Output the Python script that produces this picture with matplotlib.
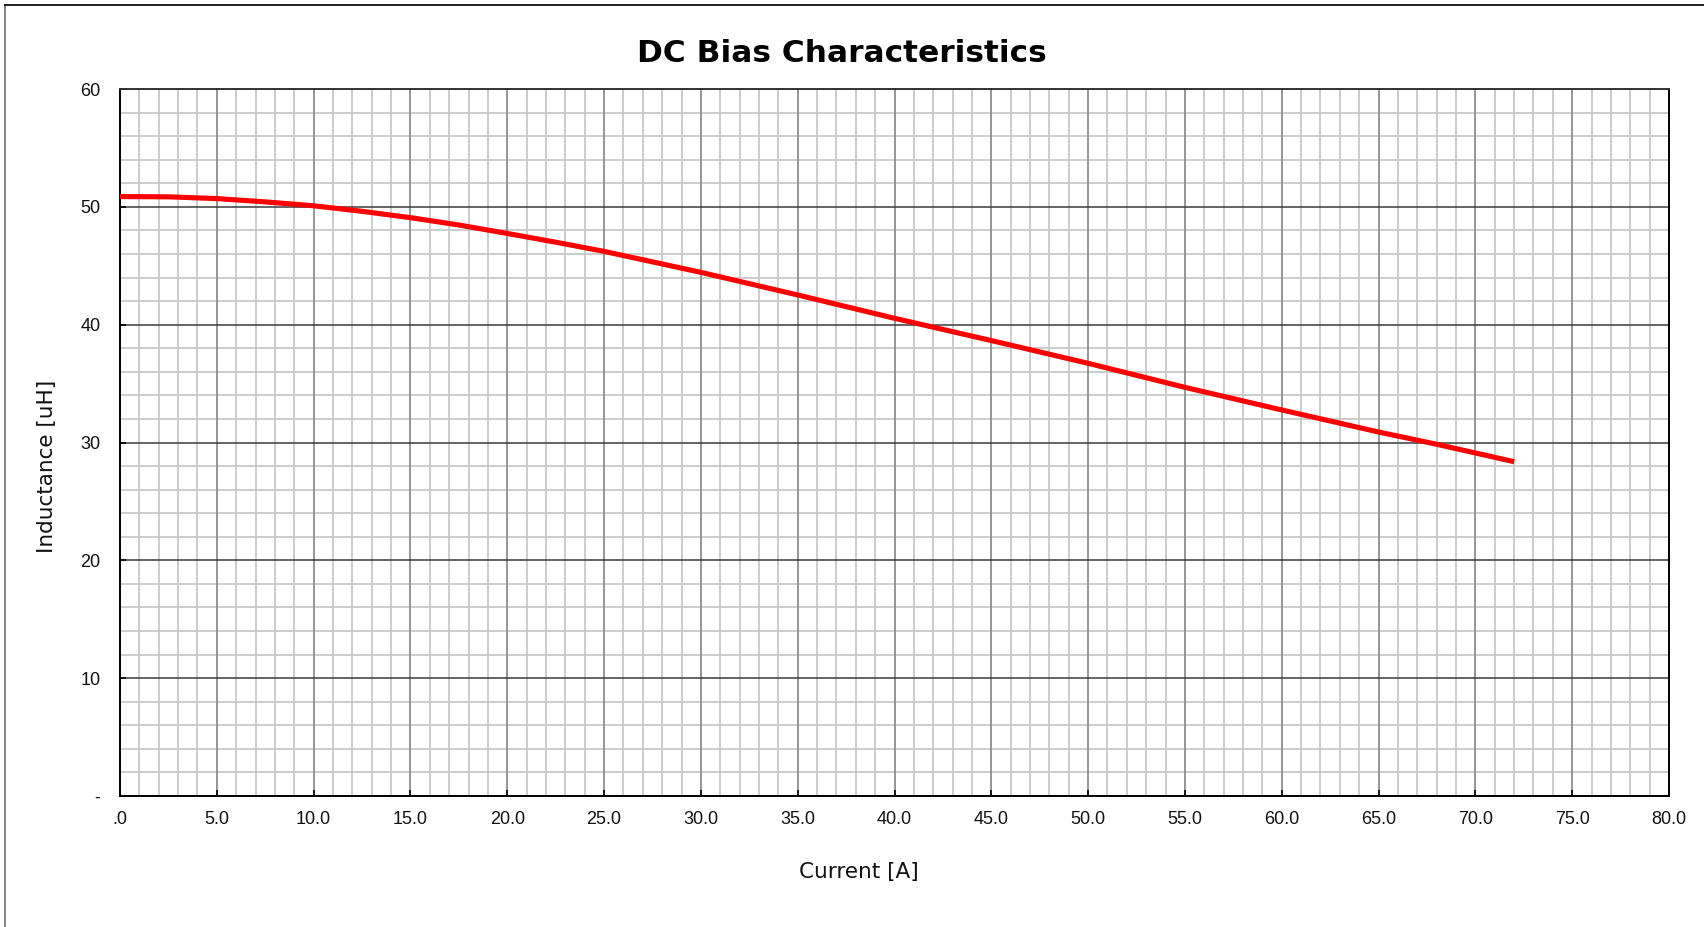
import matplotlib
matplotlib.use("Agg")
import matplotlib.pyplot as plt
from matplotlib.lines import Line2D
from matplotlib.ticker import FixedLocator, FixedFormatter

# Data
current = [0, 2.5, 5, 7.5, 10, 12.5, 15, 17.5, 20, 22.5, 25, 30, 35, 40, 45, 50, 55, 60, 65, 68, 72]
inductance = [50.87, 50.85, 50.70, 50.42, 50.09, 49.62, 49.08, 48.46, 47.74, 47.0, 46.22, 44.44,
              42.52, 40.54, 38.65, 36.72, 34.68, 32.76, 30.89, 29.85, 28.37]

x_ticks = [0, 5, 10, 15, 20, 25, 30, 35, 40, 45, 50, 55, 60, 65, 70, 75, 80]
x_tick_labels = [".0", "5.0", "10.0", "15.0", "20.0", "25.0", "30.0", "35.0", "40.0",
                 "45.0", "50.0", "55.0", "60.0", "65.0", "70.0", "75.0", "80.0"]
y_ticks = [0, 10, 20, 30, 40, 50, 60]
y_tick_labels = ["-", "10", "20", "30", "40", "50", "60"]

W, H = 1704, 927
fig = plt.figure(figsize=(W / 100, H / 100), dpi=100)
ax = fig.add_axes([120 / W, 1 - 796 / H, (1669 - 120) / W, (796 - 89) / H])

ax.set_xlim(0, 80)
ax.set_ylim(0, 60)

# Grid
for xv in range(0, 81):
    if xv % 5 == 0:
        ax.axvline(xv, color="#8e8e8e", lw=1.3, zorder=1)
    else:
        ax.axvline(xv, color="#c8c8c8", lw=1.3, zorder=0.5)
for yv in range(0, 61, 2):
    if yv % 10 == 0:
        ax.axhline(yv, color="#3a3a3a", lw=1.1, zorder=1)
    else:
        ax.axhline(yv, color="#c8c8c8", lw=1.3, zorder=0.5)

ax.plot(current, inductance, color="#ff0000", lw=3.7, solid_capstyle="butt", zorder=3)

ax.xaxis.set_major_locator(FixedLocator(x_ticks))
ax.xaxis.set_major_formatter(FixedFormatter(x_tick_labels))
ax.yaxis.set_major_locator(FixedLocator(y_ticks))
ax.yaxis.set_major_formatter(FixedFormatter(y_tick_labels))
ax.tick_params(axis="both", which="major", direction="in", length=4, width=1.2,
               color="black", labelsize=13, labelcolor="#111111")
ax.tick_params(axis="x", pad=11)
ax.tick_params(axis="y", pad=14)
for lab in ax.get_xticklabels() + ax.get_yticklabels():
    lab.set_fontfamily("Liberation Sans")

for side in ["left", "bottom", "right"]:
    ax.spines[side].set_color("black")
    ax.spines[side].set_linewidth(1.4)
ax.spines["top"].set_color("#333333")
ax.spines["top"].set_linewidth(1.4)

fig.text(842 / W, 1 - 54 / H, "DC Bias Characteristics", ha="center", va="center",
         fontsize=22.5, fontweight="bold", family="DejaVu Sans")
fig.text(859 / W, 1 - 872 / H, "Current [A]", ha="center", va="center",
         fontsize=15.5, family="DejaVu Sans", color="#111111")
fig.text(47.5 / W, 1 - 466 / H, "Inductance [uH]", ha="center", va="center",
         fontsize=15.5, family="DejaVu Sans", rotation=90, color="#111111")

# Outer frame (left and top edges visible)
fig.add_artist(Line2D([4.5 / W, 4.5 / W], [0, 1 - 4.5 / H], transform=fig.transFigure,
                      color="#777777", lw=1.3))
fig.add_artist(Line2D([4.5 / W, 1], [1 - 4.5 / H, 1 - 4.5 / H], transform=fig.transFigure,
                      color="#111111", lw=1.3))

fig.savefig("out.png", dpi=100, facecolor="white")
